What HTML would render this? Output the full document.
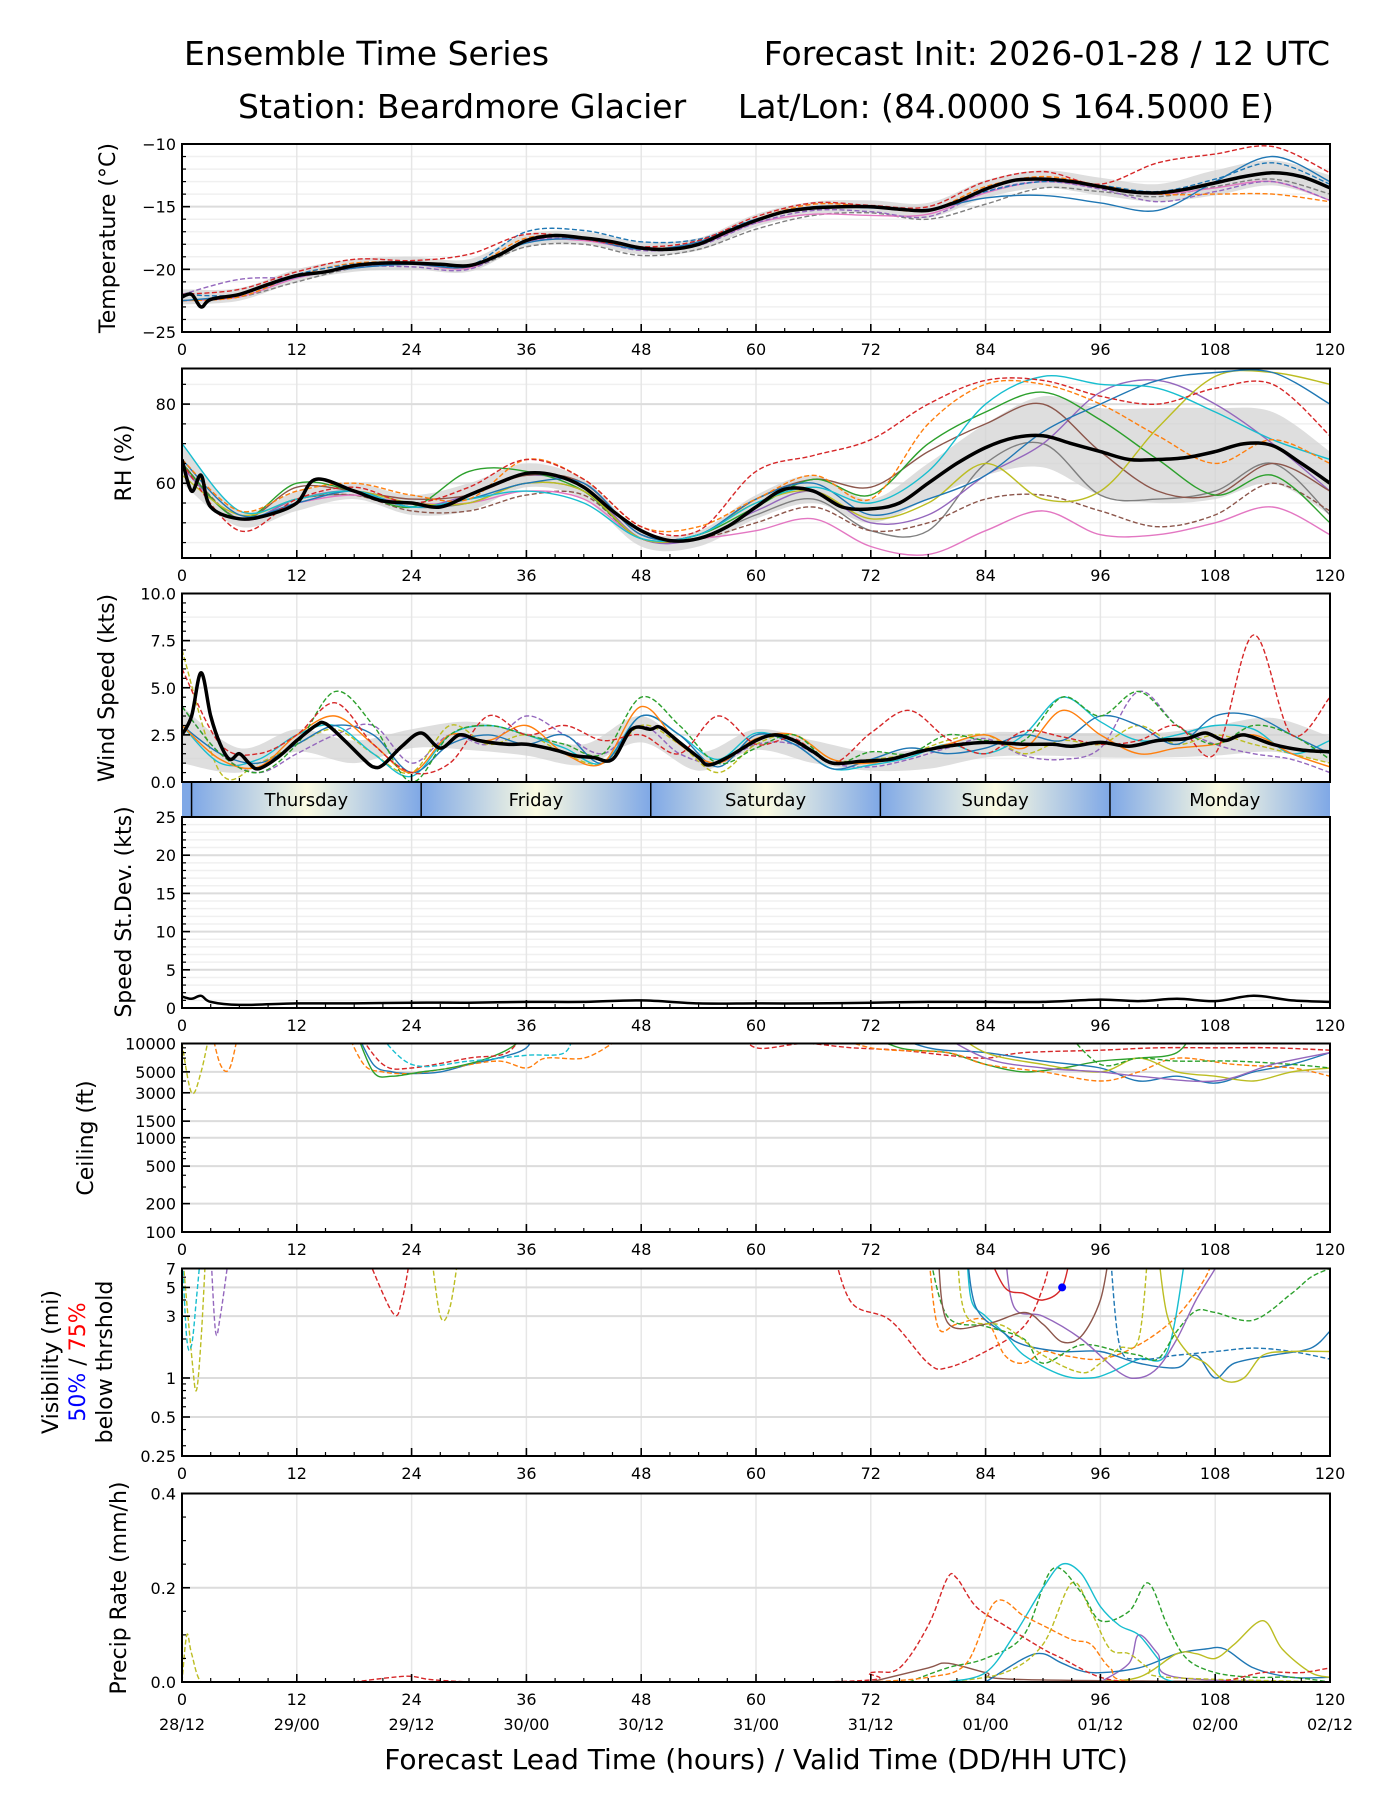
<!DOCTYPE html>
<html><head><meta charset="utf-8"><style>
html,body{margin:0;padding:0;background:#fff;}
svg{display:block;font-family:"DejaVu Sans","Liberation Sans",sans-serif;}
</style></head><body>
<svg id="fig" width="1400" height="1800" viewBox="0 0 1400 1800" xmlns="http://www.w3.org/2000/svg">
<rect x="0" y="0" width="1400" height="1800" fill="#fff"/>
<text x="184" y="65" font-size="33">Ensemble Time Series</text>
<text x="1330" y="65" font-size="33" text-anchor="end">Forecast Init: 2026-01-28 / 12 UTC</text>
<text x="238" y="118" font-size="33">Station: Beardmore Glacier</text>
<text x="1274" y="118" font-size="33" text-anchor="end">Lat/Lon: (84.0000 S 164.5000 E)</text>
<text x="756" y="1769" font-size="28" text-anchor="middle">Forecast Lead Time (hours) / Valid Time (DD/HH UTC)</text>
</svg>
<script>
const C={blue:'#1f77b4',orange:'#ff7f0e',green:'#2ca02c',red:'#d62728',purple:'#9467bd',brown:'#8c564b',pink:'#e377c2',gray:'#7f7f7f',olive:'#bcbd22',cyan:'#17becf'};
const H6=[0,6,12,18,24,30,36,42,48,54,60,66,72,78,84,90,96,102,108,114,120];
const H4=[0,4,8,12,16,20,24,28,32,36,40,44,48,52,56,60,64,68,72,76,80,84,88,92,96,100,104,108,112,116,120];
const xTicks=[0,12,24,36,48,60,72,84,96,108,120];
const dateLabels=['28/12','29/00','29/12','30/00','30/12','31/00','31/12','01/00','01/12','02/00','02/12'];
// Temperature
const tempMeanHours=[0,1,2,3,6,9,12,15,18,21,24,27,30,33,36,39,42,45,48,51,54,57,60,63,66,69,72,75,78,81,84,87,90,93,96,99,102,105,108,111,114,117,120];
const tempMean=[-22.2,-22.0,-23.0,-22.4,-22.0,-21.2,-20.5,-20.2,-19.7,-19.5,-19.5,-19.6,-19.7,-18.9,-17.7,-17.3,-17.5,-17.8,-18.3,-18.4,-18.0,-17.0,-16.1,-15.4,-15.1,-15.0,-15.0,-15.2,-15.3,-14.6,-13.6,-12.9,-12.8,-13.0,-13.4,-13.8,-13.9,-13.6,-13.1,-12.6,-12.3,-12.6,-13.5];
const tempBandLo=[-22.8,-22.5,-21.0,-20.2,-20.0,-20.2,-18.2,-18.0,-18.8,-18.5,-16.6,-15.6,-15.5,-15.9,-14.3,-13.5,-14.1,-14.6,-14.1,-13.3,-14.5];
const tempBandHi=[-21.6,-21.5,-20.0,-19.2,-19.0,-19.2,-17.2,-17.0,-17.8,-17.5,-15.6,-14.6,-14.5,-14.7,-12.9,-12.1,-12.7,-13.2,-12.1,-11.3,-12.5];
const tempRed=[-22,-21.6,-20.2,-19.2,-19.3,-18.8,-17.2,-17.6,-18.2,-17.7,-15.8,-14.7,-14.9,-15.0,-13.0,-12.2,-13.2,-11.5,-10.8,-10.2,-12.3];
const tempBlue=[-22.5,-22.0,-20.6,-19.9,-19.6,-19.8,-17.9,-17.6,-18.4,-17.8,-16.0,-15.0,-15.1,-15.2,-14.3,-14.1,-14.7,-15.3,-13.0,-11.0,-13.0];
const tempBlueD=[-22,-22,-20.4,-19.6,-19.4,-19.7,-17.0,-16.9,-17.8,-17.6,-16.0,-15.1,-15.0,-15.3,-13.8,-13,-13.3,-13.8,-12.8,-11.5,-13.2];
const tempGrayD=[-22.5,-22.2,-21,-19.9,-19.6,-19.9,-18.2,-18,-18.9,-18.4,-16.8,-15.7,-15.5,-16,-14.8,-13.5,-13.8,-14.2,-13.4,-12.8,-14];
const tempOrangeD=[-22.5,-22.2,-20.5,-19.5,-19.5,-19.8,-17.5,-17.5,-18.3,-17.9,-16,-14.8,-15,-15.3,-13.4,-12.6,-13.3,-14,-14,-14,-14.6];
const tempPurpleD=[-22,-20.8,-20.6,-19.8,-19.8,-20,-17.8,-17.6,-18.5,-18.1,-16.3,-15.3,-15.4,-15.8,-13.8,-13,-13.6,-14.6,-13.8,-13,-14.5];
const tempPink=[-22.5,-22.2,-20.7,-19.9,-19.6,-19.9,-17.8,-17.7,-18.4,-18,-16.3,-15.6,-15.7,-15.6,-13.9,-13,-13.5,-14,-13.5,-13,-14.5];
// RH
const rhMeanHours=[0,1,2,3,6,9,12,14,18,21,24,27,30,33,36,39,42,45,48,51,54,57,60,63,66,69,72,75,78,81,84,87,90,93,96,99,102,105,108,111,114,117,120];
const rhMean=[66,58,62,54,51,52,55,61,58,55.5,55,54,57,60,62.5,62,59,53,48,45.5,46,49,54,58.5,58,54,53.5,55,60,65,69,71.5,72,70,68,66,66,66.5,68,70,69.5,65,60];
const rhBandLo=[60,49,53,56,52,53,59,56,44,44,51,55,50,56,62,64,57,55,56,60,52];
const rhBandHi=[70,53,58,60,57,60,65,61,48,48,57,62,56,65,75,82,79,79,79,78,68];
const rhRedD=[65,48,56,59,55,59,66,61,49,48,63,67,71,80,86,86,82,80,84,85,72];
const rhPink=[64,51,55,57,55,55,58,56,46,46,48,51,44,42,48,53,47,47,50,54,47];
const rhCyan=[70,53,56,58,54,56,58,55,46,47,55,59,55,63,80,87,85,84,78,71,66];
const rhBlue=[66,52,55,58,54,56,60,60,47,47,56,60,52,56,62,73,80,86,88,88,80];
const rhOlive=[62,52,56,58,55,55,60,58,46,47,55,58,51,55,65,56,58,74,87,88,85];
const rhOrangeD=[66,53,58,60,57,56,66,61,49,49,56,62,56,75,85,85,80,72,65,71,65];
const rhGreen=[65,51,60,58,54,63,63,58,46,47,54,61,57,70,78,83,76,66,57,62,50];
const rhPurple=[64,51,56,58,54,57,62,59,46,46,53,58,50,52,62,70,83,86,80,70,58];
const rhBrownD=[65,51,56,57,53,53,57,57,46,46,50,54,48,50,56,57,53,49,52,60,53];
const rhBrown=[65,51,59,58,56,57,62,60,47,47,56,61,59,68,75,80,68,58,57,65,58];
const rhGray=[64,51,56,57,54,55,60,58,46,46,52,56,48,48,65,70,57,56,58,65,52];
// Wind
const windMeanHours=[0,1,2,3,4,5,6,7,8,10,12,14,15,17,19,20,21,23,25,27,29,31,34,36,39,41,43,45,47,49,50,52,54,55,57,60,62,64,66,68,71,74,77,80,84,88,91,93,96,99,102,105,107,109,111,114,117,120];
const windMean=[2.5,3.5,5.8,3.5,2.0,1.2,1.5,1.0,0.7,1.3,2.2,3.0,3.1,2.2,1.2,0.8,0.9,1.9,2.6,1.8,2.5,2.2,2.0,2.0,1.7,1.4,1.3,1.2,2.8,2.8,2.9,2.1,1.3,0.9,1.3,2.2,2.5,2.2,1.6,1.0,1.1,1.2,1.6,1.9,2.1,2.0,2.0,1.9,2.1,1.9,2.2,2.3,2.6,2.2,2.5,2.0,1.7,1.6];
const windBandLo=[1.0,0.5,1.6,1.0,1.8,1.7,1.4,0.9,2.1,0.6,1.7,1.0,0.6,0.7,1.3,1.4,1.3,1.3,1.4,1.6,1.0];
const windBandHi=[4.0,1.8,2.8,2.2,2.8,3.2,2.6,2.0,3.5,1.6,2.8,2.2,1.6,1.8,2.6,2.6,2.6,2.6,3.0,3.4,2.4];
const windRedD=[6,2,1.5,2.5,4.2,2,0.5,1,3.5,2.5,3.0,2.2,2.5,1.5,3.5,2.0,2.3,1,2.6,3.8,2.3,1.5,2.7,2.4,2.0,2.2,3.0,1.5,7.8,2.5,4.5];
const windGreenD=[4,1.5,0.5,2,4.8,3,0,2.5,3,2.5,2,1.5,4.5,3,1.0,1.8,2.5,1,1.6,1.5,2.5,2.2,2.2,4.5,3.5,4.8,3,2,3,2.5,1.2];
const windOrange=[3,1.2,0.8,2.5,3.5,2,0.5,2.5,2.2,3,1.5,1,4,2,1,2.3,2.5,1.2,1,1.5,2,2.5,1.8,3.8,2.5,1.5,1.8,2,2.5,1.5,0.8];
const windBlue=[3,1.5,1,2,3,2.5,0.5,2,2.5,2,2.5,1,3.5,2.5,0.8,2.5,2,0.7,1.2,1.8,1.5,1.8,2.5,2.2,3.5,3,2,3.5,3.5,2.5,1.5];
const windPurpleD=[4,1.5,0.5,1.5,2.5,3,1,2.5,2,3.5,2.5,1.5,3,1.5,1,2,2,1,0.8,1.2,1.8,2.3,1.4,1.2,1.8,4.8,3,2,1.5,1.2,0.5];
const windCyan=[3,1,1.2,2.5,3,1.5,0.3,2.5,3,2.5,1.8,1,3.5,2.5,1.2,2.6,2,0.7,0.9,1.3,2,1.5,2.5,4.5,3.2,2.2,2.5,3,2.8,1.5,2.2];
const windOliveD=[7,0.5,1,2,2.8,1.5,0.5,3,2,2.5,1.5,1,3,2,0.5,2,2.5,1.2,1.2,1.5,2.2,2.5,1.5,2.2,2,3,2,2.5,2,1.5,1];
// StDev
const sdHours=[0,1,2,3,6,12,18,24,30,36,42,48,54,60,66,72,78,84,90,96,100,104,108,112,116,120];
const sdValues=[1.5,1.2,1.6,0.8,0.4,0.6,0.6,0.7,0.7,0.8,0.8,1.0,0.6,0.6,0.6,0.7,0.8,0.8,0.8,1.1,0.9,1.2,0.9,1.6,1.0,0.8];
// Ceiling (ft)
const ceilOliveDh=[0,1,2,3], ceilOliveDv=[10000,3000,5000,15000];
const ceilOrangeEh=[3,4,5,6], ceilOrangeEv=[15000,6000,5500,15000];
const ceilBlueAh=[18,20,22,24,27,30,33,36,37], ceilBlueAv=[15000,6000,5000,4800,5000,6000,7000,9000,15000];
const ceilOrangeAh=[17,19,21,24,28,33,36,38,42,45], ceilOrangeAv=[15000,6000,5000,4800,5500,6500,5500,7000,7000,10000];
const ceilGreenAh=[18,20,22,25,28,32,35,36], ceilGreenAv=[15000,5000,4500,5000,5500,7000,10000,15000];
const ceilRedAh=[18,21,24,30,34,36], ceilRedAv=[15000,6000,5500,7000,8000,15000];
const ceilCyanAh=[20,24,30,36,40,41], ceilCyanAv=[15000,6000,6500,7500,8000,15000];
const ceilRedLh=[58,60,65,70,75,80,84,88,96,102,108,114,120], ceilRedLv=[15000,9000,10000,9000,8500,7500,7000,8000,8500,9000,9000,9000,8500];
const ceilGreenLh=[70,75,80,84,88,92,96,100,104,106], ceilGreenLv=[15000,9000,8000,6000,5000,5500,6500,7000,8000,15000];
const ceilBlueLh=[72,78,84,90,96,100,104,108,112,116,120], ceilBlueLv=[15000,9000,8000,6500,5500,4000,4500,3800,5000,6000,8000];
const ceilOrangeLh=[66,72,80,84,90,96,100,104,110,116,120], ceilOrangeLv=[15000,9000,8000,6000,5000,4000,5000,7000,6000,5500,4500];
const ceilOliveLh=[80,84,90,96,100,104,108,112,116,120], ceilOliveLv=[15000,8000,6000,5000,7000,5000,4500,4000,5000,5500];
const ceilGreenDh=[92,96,100,104,110,116,120], ceilGreenDv=[15000,6000,7000,6500,6500,6000,5500];
const ceilPurpleh=[78,84,90,96,100,108,114,120], ceilPurplev=[15000,7000,5500,5000,4500,4000,6000,8000];
// Visibility (mi)
const visRedDh=[68,70,74,78,80,84,88,90,91], visRedDv=[10,3.8,2.8,1.3,1.2,1.6,2.5,5,10];
const visOrangeDh=[78,79,81,84,86,88,90,92,96,100,104,107,108], visOrangeDv=[10,2.5,2.6,2.8,1.5,1.3,1.6,1.5,1.4,1.8,3,6,10];
const visCyanh=[82,82.5,84,86,88,92,95,97,100,103,105], visCyanv=[10,4,3,2.2,1.5,1.05,1.0,1.1,1.4,1.6,10];
const visBlueh=[82,83,86,88,92,96,100,104,106,108,110,114,118,120], visBluev=[10,3.5,2.2,1.8,1.6,1.6,1.3,1.2,1.5,1.0,1.3,1.5,1.7,2.3];
const visBlueDh=[97,98,100,104,108,112,116,120], visBlueDv=[10,1.8,1.4,1.5,1.6,1.7,1.6,1.4];
const visGreenDh=[78,80,84,88,90,94,98,100,102,104,106,108,112,116,118,120], visGreenDv=[10,3,2.5,2,1.3,1.8,1.6,1.5,1.4,2.3,3.3,3.2,2.8,4.5,6,7];
const visPurpleh=[86,87,90,94,98,100,102,104,106,108,109], visPurplev=[10,3.5,3,2,1.1,1.0,1.2,2,4,7,10];
const visBrownh=[79,80,84,88,90,92,94,96,97], visBrownv=[10,2.7,2.6,3.2,2.6,1.9,2.1,4,10];
const visOliveh=[102,103,105,107,109,111,113,116,120], visOlivev=[10,3,1.6,1.3,0.95,1.0,1.5,1.6,1.6];
const visOliveDh=[81,82,86,90,94,96,98,100,101], visOliveDv=[10,3,2.5,1.5,1.1,1.3,1.7,2,10];
const visRedh=[84,86,88,90,92,93], visRedv=[10,5,4.5,4,5,10];
const visEarlyOliveh=[0,1,1.5,2,2.5], visEarlyOlivev=[10,1.5,0.8,2,10];
const visEarlyCyanh=[0,0.5,1,1.5,2], visEarlyCyanv=[10,2,1.8,4,10];
const visEarlyPurpleh=[3,3.5,4,5], visEarlyPurplev=[10,2.3,3,10];
const visMidRedh=[19,22,23,24], visMidRedv=[10,3.2,4,10];
const visMidOliveh=[26,27,28,29], visMidOlivev=[10,3,3.5,10];
// Precip (mm/h)
const prRedDh=[0,66,72,75,78,80,81,83,86,90,92,96,100,108,113,117,120], prRedDv=[0,0,0.02,0.03,0.12,0.22,0.22,0.16,0.12,0.07,0.05,0.01,0,0,0.02,0.02,0.03];
const prOrangeDh=[72,78,82,85,88,90,93,95,97,100,120], prOrangeDv=[0,0.01,0.04,0.17,0.14,0.12,0.09,0.08,0.03,0,0];
const prCyanh=[80,84,87,90,92,94,96,98,100,102,104,120], prCyanv=[0,0.02,0.1,0.2,0.25,0.23,0.16,0.12,0.1,0.05,0,0];
const prGreenDh=[76,80,84,88,91,94,96,99,101,103,105,108,112,116,120], prGreenDv=[0,0.03,0.05,0.1,0.24,0.19,0.13,0.15,0.21,0.12,0.05,0.02,0.01,0.01,0];
const prOliveDh=[80,86,90,93,95,97,99,101,103,120], prOliveDv=[0,0.02,0.08,0.21,0.15,0.07,0.06,0.03,0.01,0];
const prOliveh=[95,100,104,106,108,110,113,115,118,120], prOlivev=[0,0.01,0.06,0.06,0.05,0.08,0.13,0.07,0.02,0.01];
const prBlueh=[84,88,90,92,95,100,104,107,109,112,116,120], prBluev=[0,0.05,0.06,0.04,0.02,0.03,0.06,0.07,0.07,0.03,0.01,0.01];
const prPurpleh=[96,99,100,102,104,120], prPurplev=[0,0.04,0.1,0.06,0.01,0];
const prBrownh=[72,78,80,84,88,120], prBrownv=[0,0.03,0.04,0.02,0.005,0];
const prEarlyh=[0,0.5,1,2,4], prEarlyv=[0,0.1,0.06,0,0];
const prMidh=[18,22,24,26,30], prMidv=[0,0.01,0.012,0.005,0];
const days=['Thursday','Friday','Saturday','Sunday','Monday'];
const dayStarts=[1,25,49,73,97];

const svg=document.getElementById('fig');
const NS='http://www.w3.org/2000/svg';
const X0=182,X1=1330;
const TICKFS=16;
const xs=h=>X0+h*(X1-X0)/120;
function el(tag,attrs,parent){const e=document.createElementNS(NS,tag);for(const k in attrs)e.setAttribute(k,attrs[k]);(parent||svg).appendChild(e);return e;}
function smooth(pts){
  if(pts.length<2)return '';
  let d='M'+pts[0][0].toFixed(1)+','+pts[0][1].toFixed(1);
  for(let i=0;i<pts.length-1;i++){
    const p0=pts[Math.max(0,i-1)],p1=pts[i],p2=pts[i+1],p3=pts[Math.min(pts.length-1,i+2)];
    const c1x=p1[0]+(p2[0]-p0[0])/6,c1y=p1[1]+(p2[1]-p0[1])/6,c2x=p2[0]-(p3[0]-p1[0])/6,c2y=p2[1]-(p3[1]-p1[1])/6;
    d+=' C'+c1x.toFixed(1)+','+c1y.toFixed(1)+' '+c2x.toFixed(1)+','+c2y.toFixed(1)+' '+p2[0].toFixed(1)+','+p2[1].toFixed(1);
  }
  return d;
}
let clipId=0;
function panel(p){
  const g=el('g',{});
  
  
  const ys=p.log?(v=>p.y1-(Math.log10(v)-Math.log10(p.min))/(Math.log10(p.max)-Math.log10(p.min))*(p.y1-p.y0)):(v=>p.y1-(v-p.min)/(p.max-p.min)*(p.y1-p.y0));
  const cid='clip'+(clipId++);
  const cp=el('clipPath',{id:cid},g);el('rect',{x:X0,y:p.y0,width:X1-X0,height:p.y1-p.y0},cp);
  (p.minorGrid||[]).forEach(v=>el('line',{x1:X0,x2:X1,y1:ys(v),y2:ys(v),stroke:'#f0f0f0','stroke-width':1.5},g));
  xTicks.forEach(h=>el('line',{x1:xs(h),x2:xs(h),y1:p.y0,y2:p.y1,stroke:'#e6e6e6','stroke-width':1.5},g));
  p.ticks.forEach(v=>el('line',{x1:X0,x2:X1,y1:ys(v),y2:ys(v),stroke:'#dcdcdc','stroke-width':2},g));
  const dg=el('g',{'clip-path':'url(#'+cid+')'},g);
  p.draw(dg,ys);
  el('rect',{x:X0,y:p.y0,width:X1-X0,height:p.y1-p.y0,fill:'none',stroke:'#000','stroke-width':2},g);
  for(let h=0;h<=120;h+=3){const maj=h%12===0;el('line',{x1:xs(h),x2:xs(h),y1:p.y1,y2:p.y1-(maj?8:4),stroke:'#000','stroke-width':maj?1.6:1.2},g);}
  p.ticks.forEach((v,i)=>{
    el('line',{x1:X0,x2:X0+8,y1:ys(v),y2:ys(v),stroke:'#000','stroke-width':1.6},g);
    const t=el('text',{x:X0-6,y:ys(v)+6,'font-size':TICKFS,'text-anchor':'end'},g);t.textContent=p.tickLabels[i];
    
    
  });
  (p.minorTicks||[]).forEach(v=>el('line',{x1:X0,x2:X0+4,y1:ys(v),y2:ys(v),stroke:'#000','stroke-width':1.2},g));
  if(!p.noXLabels){xTicks.forEach(h=>{const t=el('text',{x:xs(h),y:p.y1+23,'font-size':TICKFS,'text-anchor':'middle'},g);t.textContent=h;
    
    });}
  return p;
}
function line(g,hs,vs,ys,color,dash,w){
  const pts=hs.map((h,i)=>[xs(h),ys(vs[i])]);
  const a={d:smooth(pts),fill:'none',stroke:color,'stroke-width':w||1.4};
  if(dash)a['stroke-dasharray']='5,2.5';
  const e=el('path',a,g);
  
  
  return e;
}
function band(g,hs,lo,hi,ys){
  const top=hs.map((h,i)=>[xs(h),ys(hi[i])]);const bot=hs.map((h,i)=>[xs(h),ys(lo[i])]).reverse();
  const d=smooth(top)+' L'+bot[0][0]+','+bot[0][1]+smooth(bot).replace(/^M[^C]*/,' ')+'Z';
  const e=el('path',{d:d,fill:'#d3d3d3','fill-opacity':0.75,stroke:'none'},g);
  
  
}
function meanLine(g,hs,vs,ys){
  const e=el('path',{d:smooth(hs.map((h,i)=>[xs(h),ys(vs[i])])),fill:'none',stroke:'#000','stroke-width':3.5},g);
  
  
}
function ylabel(lines,x,yc,name){
  lines.forEach((ln,i)=>{
    const t=el('text',{x:0,y:0,'font-size':22,'text-anchor':'middle',transform:`translate(${x+i*27},${yc}) rotate(-90)`});
    
    
    if(typeof ln==='string'){t.textContent=ln;}else{ln.forEach(s=>{const ts=el('tspan',{fill:s[1]},t);ts.textContent=s[0];});}
  });
}
panel({name:'temperature',y0:144,y1:332,min:-25,max:-10,ticks:[-25,-20,-15,-10],tickLabels:['\u221225','\u221220','\u221215','\u221210'],
  minorGrid:[-24,-23,-22,-21,-19,-18,-17,-16,-14,-13,-12,-11],minorTicks:[-24,-23,-22,-21,-19,-18,-17,-16,-14,-13,-12,-11],
  draw:(g,ys)=>{band(g,H6,tempBandLo,tempBandHi,ys);
    line(g,H6,tempGrayD,ys,C.gray,true);line(g,H6,tempPink,ys,C.pink);line(g,H6,tempPurpleD,ys,C.purple,true);
    line(g,H6,tempOrangeD,ys,C.orange,true);line(g,H6,tempBlue,ys,C.blue);line(g,H6,tempBlueD,ys,C.blue,true);line(g,H6,tempRed,ys,C.red,true);
    meanLine(g,tempMeanHours,tempMean,ys);}});
ylabel(['Temperature (\u00b0C)'],115,238,'temperature-axis-title');
panel({name:'rh',y0:368.5,y1:558,min:41.1,max:89,ticks:[60,80],tickLabels:['60','80'],
  minorGrid:[45,50,55,65,70,75,85],minorTicks:[45,50,55,65,70,75,85],
  draw:(g,ys)=>{band(g,H6,rhBandLo,rhBandHi,ys);
    line(g,H6,rhGray,ys,C.gray);line(g,H6,rhBrownD,ys,C.brown,true);line(g,H6,rhPink,ys,C.pink);line(g,H6,rhPurple,ys,C.purple);
    line(g,H6,rhBrown,ys,C.brown);line(g,H6,rhGreen,ys,C.green);line(g,H6,rhOlive,ys,C.olive);line(g,H6,rhBlue,ys,C.blue);
    line(g,H6,rhCyan,ys,C.cyan);line(g,H6,rhOrangeD,ys,C.orange,true);line(g,H6,rhRedD,ys,C.red,true);
    meanLine(g,rhMeanHours,rhMean,ys);}});
ylabel(['RH (%)'],131,463,'rh-axis-title');
panel({name:'wind-speed',y0:593.5,y1:782,min:0,max:10,ticks:[0,2.5,5,7.5,10],tickLabels:['0.0','2.5','5.0','7.5','10.0'],noXLabels:true,
  minorGrid:[1.25,3.75,6.25,8.75],minorTicks:[0.5,1,1.5,2,3,3.5,4,4.5,5.5,6,6.5,7,8,8.5,9,9.5],
  draw:(g,ys)=>{band(g,H6,windBandLo,windBandHi,ys);
    line(g,H4,windPurpleD,ys,C.purple,true);line(g,H4,windOliveD,ys,C.olive,true);line(g,H4,windCyan,ys,C.cyan);line(g,H4,windBlue,ys,C.blue);
    line(g,H4,windOrange,ys,C.orange);line(g,H4,windGreenD,ys,C.green,true);line(g,H4,windRedD,ys,C.red,true);
    meanLine(g,windMeanHours,windMean,ys);}});
ylabel(['Wind Speed (kts)'],114,688,'wind-speed-axis-title');
(function(){
  const defs=el('defs',{});
  const gr=el('linearGradient',{id:'dayGrad',x1:0,x2:1,y1:0,y2:0},defs);
  el('stop',{offset:'0','stop-color':'#7fa8e6'},gr);el('stop',{offset:'0.5','stop-color':'#fbfbe2'},gr);el('stop',{offset:'1','stop-color':'#7fa8e6'},gr);
  const g=el('g',{});
  
  
  el('rect',{x:X0,y:783,width:xs(1)-X0,height:34,fill:'#7fa8e6'},g);
  days.forEach((d,i)=>{
    const a=xs(dayStarts[i]),b=Math.min(xs(dayStarts[i]+24),X1);
    const r=el('rect',{x:a,y:783,width:b-a,height:34,fill:'url(#dayGrad)'},g);
    
    
    el('line',{x1:a,x2:a,y1:783,y2:817,stroke:'#000','stroke-width':1.5},g);
    const t=el('text',{x:(a+xs(dayStarts[i]+24))/2,y:806,'font-size':18,'text-anchor':'middle'},g);t.textContent=d;
    
    
  });
})();
panel({name:'speed-stdev',y0:817,y1:1008,min:0,max:25,ticks:[0,5,10,15,20,25],tickLabels:['0','5','10','15','20','25'],
  minorGrid:[1,2,3,4,6,7,8,9,11,12,13,14,16,17,18,19,21,22,23,24],minorTicks:[1,2,3,4,6,7,8,9,11,12,13,14,16,17,18,19,21,22,23,24],
  draw:(g,ys)=>{const e=el('path',{d:smooth(sdHours.map((h,i)=>[xs(h),ys(sdValues[i])])),fill:'none',stroke:'#000','stroke-width':2.5},g);
    
    }});
ylabel(['Speed St.Dev. (kts)'],131,912,'speed-stdev-axis-title');
panel({name:'ceiling',y0:1043.5,y1:1232,min:100,max:10000,log:true,ticks:[100,200,500,1000,1500,3000,5000,10000],tickLabels:['100','200','500','1000','1500','3000','5000','10000'],
  minorTicks:[300,400,600,700,800,900,2000,4000,6000,7000,8000,9000],
  draw:(g,ys)=>{
    line(g,ceilOliveDh,ceilOliveDv,ys,C.olive,true);line(g,ceilOrangeEh,ceilOrangeEv,ys,C.orange,true);
    line(g,ceilBlueAh,ceilBlueAv,ys,C.blue);line(g,ceilOrangeAh,ceilOrangeAv,ys,C.orange,true);line(g,ceilGreenAh,ceilGreenAv,ys,C.green);
    line(g,ceilRedAh,ceilRedAv,ys,C.red,true);line(g,ceilCyanAh,ceilCyanAv,ys,C.cyan,true);
    line(g,ceilRedLh,ceilRedLv,ys,C.red,true);line(g,ceilGreenLh,ceilGreenLv,ys,C.green);line(g,ceilBlueLh,ceilBlueLv,ys,C.blue);
    line(g,ceilOrangeLh,ceilOrangeLv,ys,C.orange,true);line(g,ceilOliveLh,ceilOliveLv,ys,C.olive);line(g,ceilGreenDh,ceilGreenDv,ys,C.green,true);
    line(g,ceilPurpleh,ceilPurplev,ys,C.purple);}});
ylabel(['Ceiling (ft)'],93,1138,'ceiling-axis-title');
panel({name:'visibility',y0:1268.5,y1:1456,min:0.25,max:7,log:true,ticks:[0.25,0.5,1,3,5,7],tickLabels:['0.25','0.5','1','3','5','7'],
  minorTicks:[0.3,0.4,0.6,0.7,0.8,0.9,2,4,6],
  draw:(g,ys)=>{
    line(g,visEarlyOliveh,visEarlyOlivev,ys,C.olive,true);line(g,visEarlyCyanh,visEarlyCyanv,ys,C.cyan,true);line(g,visEarlyPurpleh,visEarlyPurplev,ys,C.purple,true);
    line(g,visMidRedh,visMidRedv,ys,C.red,true);line(g,visMidOliveh,visMidOlivev,ys,C.olive,true);
    line(g,visRedDh,visRedDv,ys,C.red,true);line(g,visOrangeDh,visOrangeDv,ys,C.orange,true);line(g,visCyanh,visCyanv,ys,C.cyan);
    line(g,visBlueh,visBluev,ys,C.blue);line(g,visBlueDh,visBlueDv,ys,C.blue,true);line(g,visGreenDh,visGreenDv,ys,C.green,true);
    line(g,visPurpleh,visPurplev,ys,C.purple);line(g,visBrownh,visBrownv,ys,C.brown);line(g,visOliveh,visOlivev,ys,C.olive);
    line(g,visOliveDh,visOliveDv,ys,C.olive,true);line(g,visRedh,visRedv,ys,C.red);
    const dot=el('circle',{cx:xs(92),cy:ys(5),r:4,fill:'#0000ff'},g);
    
    }});
ylabel(['Visibility (mi)',[['50%','#0000ff'],[' / ','#000000'],['75%','#ff0000']],'below thrshold'],58,1362,'visibility-axis-title');
panel({name:'precip-rate',y0:1493.5,y1:1682,min:0,max:0.4,ticks:[0,0.2,0.4],tickLabels:['0.0','0.2','0.4'],
  minorTicks:[0.05,0.1,0.15,0.25,0.3,0.35],
  draw:(g,ys)=>{
    line(g,prEarlyh,prEarlyv,ys,C.olive,true);line(g,prMidh,prMidv,ys,C.red,true);
    line(g,prBrownh,prBrownv,ys,C.brown);line(g,prPurpleh,prPurplev,ys,C.purple);line(g,prBlueh,prBluev,ys,C.blue);
    line(g,prOliveh,prOlivev,ys,C.olive);line(g,prOliveDh,prOliveDv,ys,C.olive,true);line(g,prGreenDh,prGreenDv,ys,C.green,true);
    line(g,prCyanh,prCyanv,ys,C.cyan);line(g,prOrangeDh,prOrangeDv,ys,C.orange,true);line(g,prRedDh,prRedDv,ys,C.red,true);}});
xTicks.forEach((h,i)=>{const t=el('text',{x:xs(h),y:1682+48,'font-size':TICKFS,'text-anchor':'middle'});t.textContent=dateLabels[i];
  
  });
ylabel(['Precip Rate (mm/h)'],126,1588,'precip-rate-axis-title');
</script>
</body></html>
